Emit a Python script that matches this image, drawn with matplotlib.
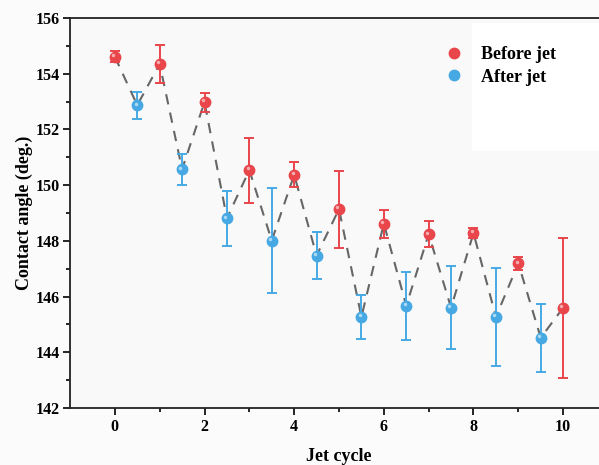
import matplotlib
matplotlib.use('Agg')
import matplotlib.pyplot as plt
from matplotlib import transforms
from matplotlib.patches import Rectangle

FONT = ['Liberation Serif', 'DejaVu Serif']

# data
before_x = [0, 1, 2, 3, 4, 5, 6, 7, 8, 9, 10]
before_y = [154.61, 154.35, 152.98, 150.54, 150.37, 149.14, 148.62, 148.24, 148.28, 147.19, 145.60]
before_err = [0.20, 0.69, 0.34, 1.17, 0.45, 1.38, 0.50, 0.47, 0.17, 0.24, 2.51]

after_x = [0.5, 1.5, 2.5, 3.5, 4.5, 5.5, 6.5, 7.5, 8.5, 9.5]
after_y = [152.87, 150.57, 148.81, 148.01, 147.47, 145.27, 145.67, 145.60, 145.27, 144.52]
after_err = [0.48, 0.55, 0.98, 1.88, 0.85, 0.78, 1.22, 1.49, 1.75, 1.22]

x_ticks = [0, 2, 4, 6, 8, 10]
y_ticks = [142, 144, 146, 148, 150, 152, 154, 156]

RED = '#e8464b'
BLUE = '#47a9e4'

plt.rcParams['font.family'] = FONT
plt.rcParams['font.weight'] = 'bold'

fig = plt.figure(figsize=(5.99, 4.65), dpi=100, facecolor='#fbfbfb')
ax = fig.add_axes([70 / 599, 57 / 465, 538 / 599, 390 / 465])
ax.set_facecolor('#f9f9f9')

#white patch behind the legend, like in the original
ax.add_patch(Rectangle((0.748, 0.658), 0.3, 0.33, transform=ax.transAxes,
                       facecolor='white', edgecolor='none', zorder=0.5))

#dashed line through all points in order
all_pts = sorted(zip(before_x + after_x, before_y + after_y))
ax.plot([p[0] for p in all_pts], [p[1] for p in all_pts], ls=(0, (5, 4)),
        color='#666666', lw=1.5, zorder=2)

for xs, ys, es, col in [(before_x, before_y, before_err, RED),
                        (after_x, after_y, after_err, BLUE)]:
    ax.errorbar(xs, ys, yerr=es, fmt='none', ecolor=col, elinewidth=1.4,
                capsize=3.5, capthick=1.4, zorder=3)
    ax.plot(xs, ys, 'o', color=col, ms=7.5, mec=col, zorder=4)
    #small highlight to mimic the glossy spheres
    hl = transforms.offset_copy(ax.transData, fig=fig, x=-1.2, y=1.2, units='points')
    ax.plot(xs, ys, 'o', color='white', alpha=0.55, ms=2.5, mec='none',
            transform=hl, zorder=5)

#legend handles
h1, = ax.plot([], [], 'o', color=RED, ms=7.5, label='Before jet')
h2, = ax.plot([], [], 'o', color=BLUE, ms=7.5, label='After jet')
leg = ax.legend(handles=[h1, h2], loc='upper left', bbox_to_anchor=(0.663, 0.97),
                frameon=False, prop={'family': FONT, 'weight': 'bold', 'size': 13},
                handletextpad=0.9, labelspacing=0.32, handlelength=1.2)

ax.set_xlim(-1, 11)
ax.set_ylim(142, 156)
ax.set_xticks(x_ticks)
ax.set_xticks([1, 3, 5, 7, 9], minor=True)
ax.set_yticks(y_ticks)
ax.set_yticks([143, 145, 147, 149, 151, 153, 155], minor=True)
ax.tick_params(which='major', direction='out', length=5, width=1.2, labelsize=11.5, pad=3)
ax.tick_params(axis='y', which='major', pad=2)
ax.tick_params(which='minor', direction='out', length=3, width=1.2)
for lab in ax.get_xticklabels() + ax.get_yticklabels():
    lab.set_fontweight('bold')

for s in ['left', 'bottom', 'top']:
    ax.spines[s].set_linewidth(1.3)
    ax.spines[s].set_color('#222222')
ax.spines['right'].set_visible(False)

ax.set_xlabel('Jet cycle', fontsize=13, fontweight='bold', labelpad=9)
ax.set_ylabel('Contact angle (deg.)', fontsize=13, fontweight='bold', labelpad=2)

fig.savefig('out.png', dpi=100, facecolor=fig.get_facecolor())
